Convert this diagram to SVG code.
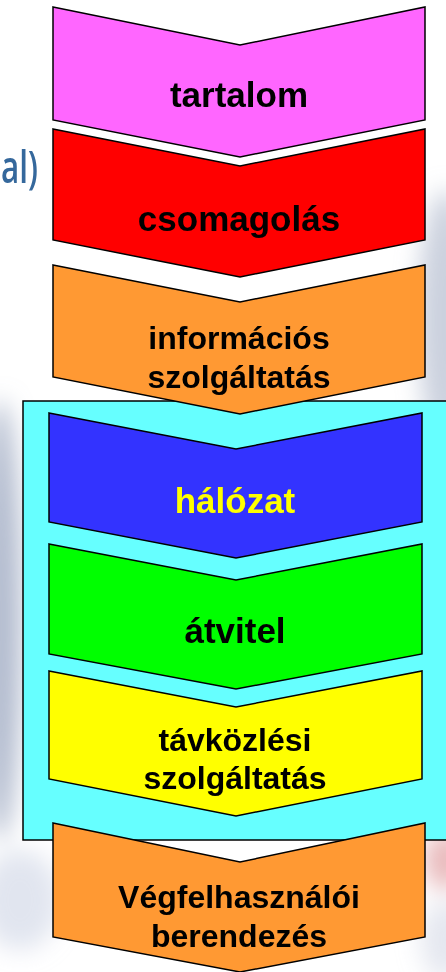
<svg xmlns="http://www.w3.org/2000/svg" width="446" height="972" viewBox="0 0 446 972">
<defs>
<filter id="blur" x="-50%" y="-50%" width="200%" height="200%"><feGaussianBlur stdDeviation="12"/></filter>
<style>
.chev{stroke:#000;stroke-width:1.5;stroke-linejoin:miter}
.lbl{font-family:"Liberation Sans",Arial,sans-serif;font-weight:bold;text-anchor:middle;fill:#000}
.big{font-size:35px}
.small{font-size:32px}
</style>
</defs>
<rect width="446" height="972" fill="#ffffff"/>
<g id="background" filter="url(#blur)">
<ellipse cx="0" cy="620" rx="22" ry="220" fill="#9aa6bf" opacity="0.75"/>
<ellipse cx="446" cy="320" rx="28" ry="130" fill="#a9b3c8" opacity="0.6"/>
<ellipse cx="446" cy="860" rx="22" ry="30" fill="#d98a8e" opacity="0.6"/>
<ellipse cx="20" cy="900" rx="40" ry="50" fill="#c4cce0" opacity="0.5"/>
<ellipse cx="446" cy="940" rx="25" ry="40" fill="#c9cfe0" opacity="0.5"/>
</g>
<text x="38" y="183" font-family="'Open Sans','Liberation Sans',sans-serif" font-size="46" font-weight="600" fill="#35689c" text-anchor="end" textLength="37" lengthAdjust="spacingAndGlyphs">al)</text>
<g id="telecom-box">
<rect x="23" y="401" width="440" height="439" fill="#66ffff" stroke="#000" stroke-width="1.5"/>
</g>
<g id="tartalom">
<path class="chev" fill="#ff66ff" d="M53,7 L240,45 L425,7 L425,120 L240,157 L53,120 Z"/>
<text class="lbl big" x="239" y="107">tartalom</text>
</g>
<g id="csomagolas">
<path class="chev" fill="#ff0000" d="M53,129 L240,166 L425,129 L425,240 L240,277 L53,240 Z"/>
<text class="lbl big" x="239" y="231">csomagolás</text>
</g>
<g id="informacios-szolgaltatas">
<path class="chev" fill="#ff9933" d="M53,265 L240,302 L425,265 L425,377 L240,414 L53,377 Z"/>
<text class="lbl small" x="239" y="349">információs</text>
<text class="lbl small" x="239" y="388">szolgáltatás</text>
</g>
<g id="halozat">
<path class="chev" fill="#3333ff" d="M49,413 L236,449 L422,413 L422,522 L236,558 L49,522 Z"/>
<text class="lbl big" x="235" y="513" style="fill:#ffff00">hálózat</text>
</g>
<g id="atvitel">
<path class="chev" fill="#00ff00" d="M49,544 L236,580 L422,544 L422,654 L236,689 L49,654 Z"/>
<text class="lbl big" x="235" y="643">átvitel</text>
</g>
<g id="tavkozlesi-szolgaltatas">
<path class="chev" fill="#ffff00" d="M49,671 L236,707 L422,671 L422,779 L236,816 L49,779 Z"/>
<text class="lbl small" x="235" y="751">távközlési</text>
<text class="lbl small" x="235" y="789">szolgáltatás</text>
</g>
<g id="vegfelhasznaloi-berendezes">
<path class="chev" fill="#ff9933" d="M53,823 L240,862 L425,823 L425,937 L240,972 L53,937 Z"/>
<text class="lbl small" x="239" y="908">Végfelhasználói</text>
<text class="lbl small" x="239" y="947">berendezés</text>
</g>
<g id="connectors"/>
</svg>
